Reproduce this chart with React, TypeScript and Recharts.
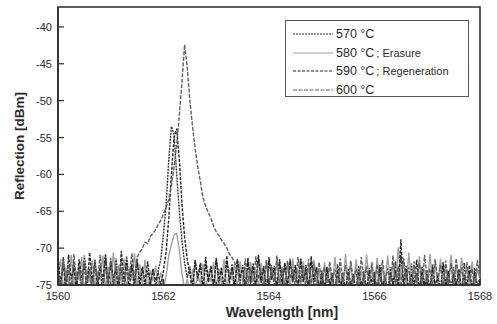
import React from 'react';
import { LineChart, Line, XAxis, YAxis, Legend, Label, ReferenceArea } from 'recharts';

// sampling grid of the spectrum analyser [nm]
const wavelengths = [
  1560, 1560.05, 1560.1, 1560.15, 1560.2, 1560.25, 1560.3, 1560.35, 1560.4, 1560.45,
  1560.5, 1560.55, 1560.6, 1560.65, 1560.7, 1560.75, 1560.8, 1560.85, 1560.9, 1560.95,
  1561, 1561.05, 1561.1, 1561.15, 1561.2, 1561.25, 1561.3, 1561.35, 1561.4, 1561.45,
  1561.5, 1561.55, 1561.6, 1561.65, 1561.7, 1561.75, 1561.8, 1561.85, 1561.9, 1561.95,
  1562, 1562.05, 1562.1, 1562.15, 1562.2, 1562.25, 1562.3, 1562.35, 1562.4, 1562.45,
  1562.5, 1562.55, 1562.6, 1562.65, 1562.7, 1562.75, 1562.8, 1562.85, 1562.9, 1562.95,
  1563, 1563.05, 1563.1, 1563.15, 1563.2, 1563.25, 1563.3, 1563.35, 1563.4, 1563.45,
  1563.5, 1563.55, 1563.6, 1563.65, 1563.7, 1563.75, 1563.8, 1563.85, 1563.9, 1563.95,
  1564, 1564.05, 1564.1, 1564.15, 1564.2, 1564.25, 1564.3, 1564.35, 1564.4, 1564.45,
  1564.5, 1564.55, 1564.6, 1564.65, 1564.7, 1564.75, 1564.8, 1564.85, 1564.9, 1564.95,
  1565, 1565.05, 1565.1, 1565.15, 1565.2, 1565.25, 1565.3, 1565.35, 1565.4, 1565.45,
  1565.5, 1565.55, 1565.6, 1565.65, 1565.7, 1565.75, 1565.8, 1565.85, 1565.9, 1565.95,
  1566, 1566.05, 1566.1, 1566.15, 1566.2, 1566.25, 1566.3, 1566.35, 1566.4, 1566.45,
  1566.5, 1566.55, 1566.6, 1566.65, 1566.7, 1566.75, 1566.8, 1566.85, 1566.9, 1566.95,
  1567, 1567.05, 1567.1, 1567.15, 1567.2, 1567.25, 1567.3, 1567.35, 1567.4, 1567.45,
  1567.5, 1567.55, 1567.6, 1567.65, 1567.7, 1567.75, 1567.8, 1567.85, 1567.9, 1567.95,
  1568,
];

// reflection [dBm] per anneal temperature
const r570 = [
  -72.5, -75.8, -71.2, -74.6, -73.0, -76.2, -71.8, -74.9, -72.4, -75.5,
  -71.0, -74.2, -72.8, -76.0, -71.5, -74.7, -73.2, -75.9, -70.8, -74.4,
  -72.1, -75.6, -71.4, -74.8, -72.9, -76.1, -71.1, -74.3, -72.6, -75.7,
  -71.9, -74.5, -72.7, -75.4, -73.1, -74.9, -72.8, -75.2, -73.0, -71.5,
  -68, -64, -58, -53.5, -54.5, -60, -65, -69, -72, -74,
  -72.5, -75.3, -71.6, -74.4, -72.2, -75.8, -71.9, -74.6, -72.4, -75.5,
  -71.3, -74.8, -72.6, -75.9, -71.7, -74.2, -72.9, -76.0, -71.5, -74.7,
  -72.3, -75.4, -71.8, -74.9, -72.5, -75.7, -71.2, -74.5, -72.8, -76.2,
  -71.6, -74.3, -72.4, -75.6, -71.9, -74.8, -72.2, -75.3, -71.4, -74.6,
  -72.7, -75.8, -71.5, -74.4, -72.3, -75.5, -71.8, -74.9, -72.6, -76.0,
  -73.0, -75.6, -72.5, -74.8, -73.4, -76.1, -72.2, -75.0, -73.3, -75.7,
  -72.8, -74.9, -73.5, -76.0, -72.4, -75.2, -73.1, -75.8, -72.7, -74.6,
  -73.2, -75.9, -72.3, -75.1, -73.6, -76.2, -72.6, -74.8, -71.8, -75.5,
  -70.9, -74.7, -72.9, -75.9, -72.1, -75.3, -73.4, -76.0, -72.5, -74.9,
  -73.0, -75.7, -72.2, -75.2, -73.5, -76.1, -72.4, -74.8, -73.1, -75.6,
  -72.6, -75.0, -73.3, -75.9, -72.0, -75.4, -73.2, -76.0, -72.7, -75.1,
  -74.0,
];

const r580 = [
  -74.0, -71.5, -75.8, -72.6, -74.9, -70.9, -75.5, -73.1, -74.4, -71.2,
  -75.9, -72.9, -74.6, -71.7, -75.3, -73.4, -74.1, -71.0, -75.7, -72.5,
  -74.7, -70.6, -75.2, -72.3, -74.8, -71.4, -75.6, -72.8, -74.3, -70.7,
  -75.4, -72.2, -74.9, -71.6, -75.8, -73.0, -74.5, -72.4, -75.1, -73.3,
  -75.5, -73.8, -71.0, -69.5, -68.2, -68.0, -70.2, -73.5, -75.6, -74.2,
  -76.0, -72.9, -75.3, -73.6, -74.8, -72.1, -75.7, -73.2, -74.6, -71.9,
  -75.4, -72.7, -74.9, -71.5, -75.8, -73.0, -74.3, -72.2, -75.5, -71.8,
  -74.7, -72.6, -75.9, -71.9, -74.4, -73.1, -75.2, -72.0, -74.8, -71.7,
  -75.6, -72.8, -74.5, -71.6, -75.3, -73.2, -74.9, -72.1, -75.7, -71.4,
  -74.6, -72.9, -75.1, -71.8, -74.8, -72.5, -75.5, -71.6, -74.2, -73.0,
  -75.8, -71.9, -74.6, -72.4, -75.3, -71.2, -74.9, -72.7, -75.6, -70.8,
  -74.4, -72.2, -75.7, -71.5, -74.8, -73.0, -75.2, -70.9, -74.6, -72.3,
  -75.9, -71.3, -74.5, -72.6, -75.1, -71.0, -74.7, -72.1, -75.4, -69.9,
  -74.3, -71.6, -75.6, -70.6, -74.9, -72.4, -75.2, -71.1, -74.6, -72.8,
  -75.7, -70.8, -74.4, -72.0, -75.3, -71.4, -74.8, -72.5, -75.5, -70.9,
  -74.6, -72.2, -75.8, -71.3, -74.5, -72.7, -75.1, -71.8, -74.9, -72.9,
  -74.2,
];

const r590 = [
  -71.3, -74.9, -72.0, -76.1, -70.9, -74.2, -72.7, -75.6, -71.5, -74.0,
  -72.3, -75.8, -70.6, -74.5, -71.9, -76.0, -72.4, -74.3, -71.1, -75.5,
  -71.7, -74.1, -72.8, -75.9, -70.4, -74.6, -71.6, -75.7, -72.1, -74.8,
  -71.4, -75.3, -72.5, -74.7, -71.8, -75.0, -72.9, -74.4, -73.5, -75.1,
  -73, -70.5, -66, -60, -55, -53.8, -58, -64, -68.5, -71.5,
  -73.5, -75.6, -71.7, -74.1, -72.0, -75.9, -71.2, -74.6, -72.5, -75.3,
  -71.5, -74.3, -72.8, -75.7, -71.0, -74.8, -72.2, -75.1, -71.6, -74.0,
  -72.6, -75.8, -71.3, -74.5, -72.1, -75.4, -70.9, -74.7, -72.4, -75.9,
  -71.2, -74.2, -72.7, -75.6, -71.5, -74.9, -72.0, -75.2, -71.8, -74.4,
  -72.3, -75.7, -71.4, -74.6, -72.9, -75.5, -71.1, -74.3, -72.6, -75.8,
  -73.4, -75.9, -72.8, -75.2, -73.7, -76.3, -73.0, -75.5, -73.9, -76.0,
  -73.2, -75.4, -73.8, -76.1, -72.9, -75.7, -73.5, -76.2, -73.1, -75.3,
  -73.6, -76.0, -72.7, -75.6, -73.9, -76.3, -73.3, -75.1, -73.0, -75.8,
  -68.8, -75.5, -72.4, -76.1, -73.4, -75.3, -71.6, -76.0, -73.2, -75.6,
  -73.7, -76.2, -72.6, -75.4, -73.8, -75.9, -71.9, -75.7, -73.1, -76.0,
  -73.5, -75.2, -72.8, -76.1, -73.6, -75.5, -72.3, -75.8, -73.4, -76.0,
  -74.5,
];

const r600 = [
  -73.1, -75.4, -71.6, -74.7, -72.2, -75.9, -70.8, -74.4, -72.9, -75.2,
  -71.8, -74.6, -73.0, -75.7, -72.0, -74.3, -70.9, -75.5, -72.6, -74.8,
  -71.3, -75.1, -72.4, -74.5, -71.7, -75.8, -72.8, -74.2, -70.7, -74.3,
  -71.2, -70.6, -70.0, -69.2, -69.4, -68.4, -68.0, -67.5, -66.8, -66.2,
  -65.3, -64.5, -63.4, -61.5, -59, -56, -52, -47.5, -42.4, -45.5,
  -50, -53.5, -56.5, -59, -61, -63.2, -64.3, -65.2, -66.0, -67.0,
  -67.8, -68.3, -68.9, -69.4, -70.0, -70.8, -71.3, -72.0, -73.0, -74.8,
  -75.3, -71.4, -74.6, -72.7, -75.8, -71.1, -74.2, -72.9, -75.6, -71.6,
  -74.9, -72.3, -75.4, -71.0, -74.7, -72.6, -75.9, -71.7, -74.1, -72.8,
  -75.3, -71.2, -74.6, -72.4, -75.7, -71.5, -74.8, -72.1, -75.5, -71.9,
  -74.8, -72.6, -75.6, -71.8, -74.3, -72.9, -75.9, -71.4, -74.7, -72.3,
  -75.2, -71.7, -74.6, -72.8, -75.8, -71.2, -74.4, -72.5, -75.5, -71.9,
  -74.9, -72.2, -75.7, -71.6, -74.5, -72.7, -75.3, -71.0, -74.8, -72.4,
  -75.6, -71.3, -74.2, -72.6, -75.9, -71.8, -74.7, -72.1, -75.4, -70.9,
  -74.6, -72.8, -75.1, -71.5, -74.3, -72.3, -75.8, -71.7, -74.9, -72.0,
  -75.5, -71.4, -74.7, -72.6, -75.2, -71.9, -74.4, -72.8, -75.7, -71.6,
  -74.0,
];

const xTicks = [1560, 1561, 1562, 1563, 1564, 1565, 1566, 1567, 1568];
const yTicks = [-75, -72.5, -70, -67.5, -65, -62.5, -60, -57.5, -55, -52.5, -50, -47.5, -45, -42.5, -40];
const X_DOMAIN = [1560, 1568];
const Y_DOMAIN = [-75, -37.3];

const SERIES = [
  { key: 'r570', temp: '570 °C', note: '', color: '#333333', dash: '2 1' },
  { key: 'r580', temp: '580 °C', note: ' ; Erasure', color: '#a0a0a0', dash: undefined },
  { key: 'r590', temp: '590 °C', note: ' ; Regeneration', color: '#222222', dash: '3 1.5' },
  { key: 'r600', temp: '600 °C', note: '', color: '#606060', dash: '4 1.5' },
];

const data = wavelengths.map((w, i) => ({
  w,
  r570: r570[i],
  r580: r580[i],
  r590: r590[i],
  r600: r600[i],
}));

const W = 497;
const H = 324;
const LEFT = 58;
const BOTTOM = 285;
const FONT = '"Liberation Sans", Arial, sans-serif';
const INK = '#2a2a2a';

const YTick = (props: any) => {
  const { y, payload } = props;
  const major = payload.value % 5 === 0;
  return (
    <g>
      <line x1={LEFT} x2={LEFT + (major ? 6 : 3)} y1={y} y2={y} stroke={INK} strokeWidth={1.2} />
      {major && (
        <text x={LEFT - 6} y={y} dy={4} textAnchor="end" fontSize={11} fill={INK} fontFamily={FONT}>
          {payload.value}
        </text>
      )}
    </g>
  );
};

const XTick = (props: any) => {
  const { x, payload } = props;
  const major = payload.value % 2 === 0;
  return (
    <g>
      <line x1={x} x2={x} y1={BOTTOM} y2={BOTTOM - (major ? 6 : 3)} stroke={INK} strokeWidth={1.2} />
      {major && (
        <text x={x} y={BOTTOM + 15} textAnchor="middle" fontSize={11} fill={INK} fontFamily={FONT}>
          {payload.value}
        </text>
      )}
    </g>
  );
};

const renderLegend = () => (
  <div
    style={{
      border: '1px solid #555',
      background: '#fff',
      padding: '4px 0 3px 7px',
      fontFamily: FONT,
      color: INK,
      boxSizing: 'border-box',
      width: 184,
      height: 77,
    }}
  >
    {SERIES.map((s) => (
      <div key={s.key} style={{ display: 'flex', alignItems: 'center', height: 18.5, whiteSpace: 'nowrap' }}>
        <svg width={40} height={4} style={{ marginRight: 3 }}>
          <line x1={0} x2={40} y1={2} y2={2} stroke={s.color} strokeWidth={1} strokeDasharray={s.dash} />
        </svg>
        <span style={{ fontSize: 12.5 }}>{s.temp}</span>
        {s.note && <span style={{ fontSize: 11, marginLeft: 2 }}>{s.note}</span>}
      </div>
    ))}
  </div>
);

export default function App() {
  return (
    <div style={{ position: 'absolute', left: 0, top: 0, background: '#fff' }}>
      <LineChart width={W} height={H} data={data} margin={{ top: 7, right: 17, left: 0, bottom: 0 }}>
        <XAxis
          dataKey="w"
          type="number"
          domain={X_DOMAIN}
          ticks={xTicks}
          allowDataOverflow
          tick={<XTick />}
          tickLine={false}
          axisLine={{ stroke: INK, strokeWidth: 1.5 }}
          height={39}
        >
          <Label
            content={() => (
              <text x={282} y={317} textAnchor="middle" fontSize={14} fontWeight="bold" fill={INK} fontFamily={FONT}>
                Wavelength [nm]
              </text>
            )}
          />
        </XAxis>
        <YAxis
          type="number"
          domain={Y_DOMAIN}
          ticks={yTicks}
          allowDataOverflow
          tick={<YTick />}
          tickLine={false}
          axisLine={{ stroke: INK, strokeWidth: 1.5 }}
          width={LEFT}
        >
          <Label
            content={() => (
              <text
                x={20}
                y={146}
                transform="rotate(-90 20 146)"
                textAnchor="middle"
                dominantBaseline="middle"
                fontSize={13.5}
                fontWeight="bold"
                fill={INK}
                fontFamily={FONT}
              >
                Reflection [dBm]
              </text>
            )}
          />
        </YAxis>
        {SERIES.map((s) => (
          <Line
            key={s.key}
            type="linear"
            dataKey={s.key}
            name={s.temp + s.note}
            stroke={s.color}
            strokeWidth={1.4}
            strokeDasharray={s.dash}
            dot={false}
            isAnimationActive={false}
          />
        ))}
        <ReferenceArea
          x1={X_DOMAIN[0]}
          x2={X_DOMAIN[1]}
          y1={Y_DOMAIN[0]}
          y2={Y_DOMAIN[1]}
          fill="none"
          stroke={INK}
          strokeWidth={1.5}
          ifOverflow="visible"
        />
        <Legend
          layout="vertical"
          align="center"
          verticalAlign="middle"
          content={renderLegend}
          wrapperStyle={{ left: 285, top: 20, width: 184, height: 77 }}
        />
      </LineChart>
    </div>
  );
}
